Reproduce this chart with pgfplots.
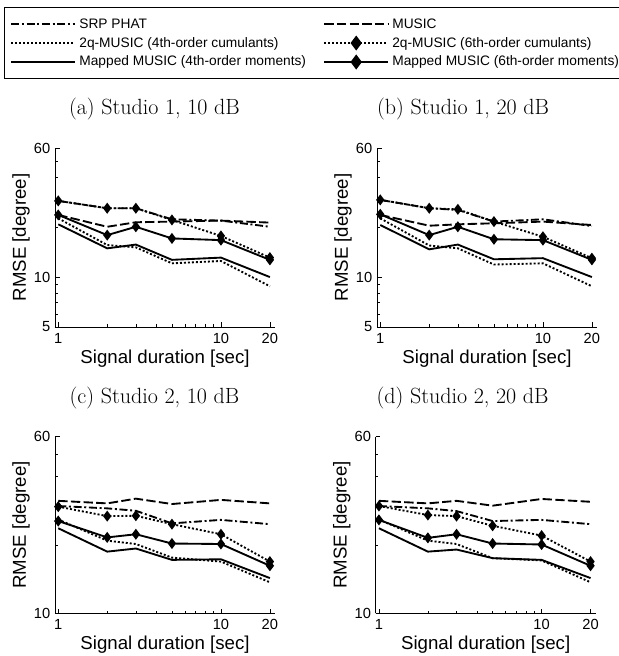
\documentclass[border=0pt]{standalone}
\usepackage{fontspec}
\newfontfamily\arial{Liberation Sans}
\usepackage{pgfplots}
\pgfplotsset{compat=1.18}
\usepackage{pgfplotstable}

\pgfplotstableread{
x srp music qa qb ma mb
1 28.8 23.7 22.6 28.8 20.8 23.7
2 26.0 20.1 15.6 26.0 14.9 17.9
3 26.0 21.4 15.1 26.0 15.7 20.1
5 22.3 21.6 12.1 22.1 12.7 17.1
10 21.9 21.9 12.5 17.7 13.1 16.7
20 20.1 21.3 8.8 13.1 10.0 12.7
}\dataA
\pgfplotstableread{
x srp music qa qb ma mb
1 29.2 23.7 22.6 29.2 20.6 23.9
2 26.0 20.4 15.5 26.0 14.7 17.9
3 25.4 20.8 14.9 25.6 15.7 20.1
5 21.6 21.1 11.9 21.6 12.8 16.9
10 22.3 21.6 12.1 17.5 13.0 16.7
20 20.3 20.6 8.8 13.0 10.0 12.7
}\dataB
\pgfplotstableread{
x srp music qa qb ma mb
1 29.7 31.3 25.9 29.5 23.7 25.5
2 29.0 30.5 20.9 26.8 18.7 21.6
3 28.3 32.0 20.2 26.9 19.3 22.3
5 24.9 30.3 17.6 24.7 17.2 20.3
10 25.8 31.6 16.9 22.3 17.3 20.2
20 24.7 30.5 13.7 16.9 14.3 16.2
}\dataC
\pgfplotstableread{
x srp music qa qb ma mb
1 29.7 31.3 25.9 29.7 23.7 25.8
2 29.0 30.5 20.9 27.1 18.7 21.5
3 28.2 31.3 20.2 26.8 19.1 22.3
5 25.5 29.8 17.5 24.3 17.5 20.3
10 25.8 31.9 17.1 22.0 17.2 20.1
20 24.7 31.0 13.7 16.9 14.3 16.2
}\dataD

\tikzset{
  srp/.style={black, line width=1.4pt, dash pattern=on 6pt off 2pt on 1.5pt off 2pt},
  music/.style={black, line width=1.4pt, dash pattern=on 7pt off 2.5pt},
  dotl/.style={black, line width=1.4pt, dash pattern=on 1.5pt off 1.5pt},
  soll/.style={black, line width=1.4pt, solid},
  diam/.style={mark=diamond*, mark size=3pt, mark options={solid, fill=black}},
}
\pgfplotsset{
  legend image code/.code={%
    \path[draw=none, fill=none] (0pt,-5.5pt) rectangle (48pt,5.5pt);
    \draw[mark repeat=2,mark phase=2,#1, mark size=4.5pt] plot coordinates {(0pt,0pt) (24pt,0pt) (48pt,0pt)};},
  every axis/.append style={
    scale only axis, width=165pt,
    axis lines=left, axis line style={-, line width=0.6pt},
    xmin=0.955, xmax=21.5,
    xtick={1,10,20}, xticklabels={1,10,20},
    minor xtick={2,3,4,5,6,7,8,9},
    tick style={black, line width=0.5pt},
    major tick length=3.5pt, minor tick length=2pt,
    tick align=inside,
    ticklabel style={font=\arial\fontsize{11}{13}\selectfont},
    xticklabel style={anchor=base, yshift=-12pt},
    xlabel={Signal duration [sec]}, ylabel={RMSE [degree]},
    label style={font=\arial\fontsize{14}{16}\selectfont},
    xlabel style={at={(axis description cs:0.5,0)}, anchor=base, yshift=-27pt},
    ylabel style={at={(axis description cs:-0.1545,0.5)}, anchor=center},
    title style={font=\fontsize{16.5}{19}\selectfont, anchor=base, yshift=18.75pt},
  },
}

\newcommand{\plotall}[1]{%
  \addplot[srp] table[x=x,y=srp]{#1};
  \addplot[music] table[x=x,y=music]{#1};
  \addplot[dotl] table[x=x,y=qa]{#1};
  \addplot[dotl, diam] table[x=x,y=qb]{#1};
  \addplot[soll] table[x=x,y=ma]{#1};
  \addplot[soll, diam] table[x=x,y=mb]{#1};
}

\begin{document}
\begin{tikzpicture}
\path[use as bounding box] (0pt,0pt) rectangle (463.5pt,-492pt);

\begin{loglogaxis}[at={(41.25pt,-245.25pt)}, anchor=south west,
  height=134.25pt, ymin=5, ymax=60,
  ytick={5,10,60}, yticklabels={5,10,60}, minor ytick={6,7,8,9,20,30,40,50},
  title={(a) Studio 1, 10 dB}, title style={at={(axis description cs:0.452,1)}},
  legend columns=2, legend cell align=left,
  legend style={at={(axis description cs:-0.2318,1.7877)}, anchor=north west,
    draw=black, line width=0.9pt, font=\arial\fontsize{10.3}{12}\selectfont,
    inner xsep=4.3pt, inner ysep=5.3pt, column sep=0pt, row sep=0pt,
    nodes={inner xsep=2.4pt, inner ysep=1.6pt, text height=8.5pt, text depth=2.5pt},
    /tikz/every even column/.append style={column sep=10.5pt}},
]
  \addplot[srp] table[x=x,y=srp]{\dataA}; \addlegendentry{SRP PHAT}
  \addplot[music] table[x=x,y=music]{\dataA}; \addlegendentry{MUSIC}
  \addplot[dotl] table[x=x,y=qa]{\dataA}; \addlegendentry{2q-MUSIC (4th-order cumulants)}
  \addplot[dotl, diam] table[x=x,y=qb]{\dataA}; \addlegendentry{2q-MUSIC (6th-order cumulants)}
  \addplot[soll] table[x=x,y=ma]{\dataA}; \addlegendentry{Mapped MUSIC (4th-order moments)}
  \addplot[soll, diam] table[x=x,y=mb]{\dataA}; \addlegendentry{Mapped MUSIC (6th-order moments)}
\end{loglogaxis}

\begin{loglogaxis}[at={(282.75pt,-245.25pt)}, anchor=south west,
  height=134.25pt, ymin=5, ymax=60,
  ytick={5,10,60}, yticklabels={5,10,60}, minor ytick={6,7,8,9,20,30,40,50},
  title={(b) Studio 1, 20 dB}, title style={at={(axis description cs:0.391,1)}}]
  \plotall{\dataB}
\end{loglogaxis}

\begin{loglogaxis}[at={(41.25pt,-460pt)}, anchor=south west,
  height=132.5pt, ymin=10, ymax=60,
  ytick={10,60}, yticklabels={10,60}, minor ytick={20,30,40,50},
  title={(c) Studio 2, 10 dB}, title style={at={(axis description cs:0.452,1)}}]
  \plotall{\dataC}
\end{loglogaxis}

\begin{loglogaxis}[at={(281.75pt,-460pt)}, anchor=south west,
  height=132.5pt, ymin=10, ymax=60,
  ytick={10,60}, yticklabels={10,60}, minor ytick={20,30,40,50},
  title={(d) Studio 2, 20 dB}, title style={at={(axis description cs:0.395,1)}}]
  \plotall{\dataD}
\end{loglogaxis}
\end{tikzpicture}
\end{document}
